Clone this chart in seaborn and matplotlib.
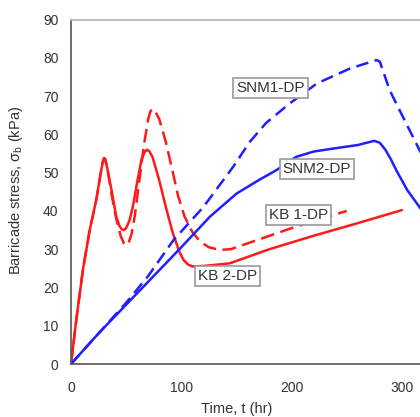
import numpy as np
import pandas as pd
import seaborn as sns
import matplotlib.pyplot as plt
import matplotlib.ticker as ticker

# KB 1-DP (dashed red)
kb1_t = [0, 5, 11, 17, 23, 27, 29, 30, 31, 33, 37, 41, 45, 48, 50, 52, 55, 58, 62, 66, 70, 72, 74, 76, 80,
         86, 92, 97, 103, 110, 117, 125, 135, 145, 160, 200, 250]
kb1_s = [0, 12, 25, 35, 43, 50, 53, 53.8, 53.5, 51, 44, 38, 33.5, 31.5, 31, 31.5, 34, 39, 48, 57, 64, 66, 66.7, 66.2, 64,
         58, 50.5, 44, 38.5, 34.5, 32, 30.5, 29.8, 30, 31.5, 35.5, 40]

# KB 2-DP (solid red)
kb2_t = [0, 5, 11, 17, 23, 27, 29, 30, 31, 33, 37, 41, 44, 46, 48, 50, 53, 56, 60, 64, 67, 69, 71, 74, 80,
         86, 92, 98, 102, 106, 110, 120, 144, 180, 220, 260, 300]
kb2_s = [0, 12, 25, 35, 43, 50, 53, 53.8, 53.5, 51, 45, 38.5, 36, 35.2, 35, 35.5, 37.5, 41, 47.5, 53.5, 55.5, 56, 55.6, 54, 48,
         41, 34.5, 29.5, 27.2, 26, 25.5, 25.6, 26.3, 30, 33.5, 36.8, 40.2]

# SNM1-DP (dashed blue)
snm1_t = [0, 25, 50, 70, 93, 120, 147, 162, 177, 198, 223, 253, 277, 280, 289, 304, 316, 330]
snm1_s = [0, 8, 16, 23, 32.4, 41, 51.5, 58, 63, 68, 73.3, 77.2, 79.4, 79, 71.5, 62.8, 55.9, 48]

# SNM2-DP (solid blue)
snm2_t = [0, 25, 50, 75, 100, 126, 150, 170, 186, 204, 220, 238, 260, 268, 275, 280, 285, 290, 295, 305, 316, 330]
snm2_s = [0, 8, 15.5, 23, 30.5, 38.5, 44.5, 48, 50.6, 54.1, 55.5, 56.3, 57.2, 57.8, 58.3, 57.8, 56, 53.5, 50.6, 45.4, 41, 35]

# label positions (data coords)
labels = ['SNM1-DP', 'SNM2-DP', 'KB 1-DP', 'KB 2-DP']
label_t = [181, 223, 206, 142]
label_s = [72.2, 50.9, 39, 23.1]

sns.set_style('white')
plt.rcParams['font.family'] = ['Liberation Sans', 'DejaVu Sans']
plt.rcParams['mathtext.fontset'] = 'custom'
plt.rcParams['mathtext.rm'] = 'Liberation Sans'

fig = plt.figure(figsize=(4.2, 4.17), dpi=100)
ax = fig.add_axes([71 / 420, 53 / 417, 386 / 420, 344.5 / 417])

red = '#ff1a1a'
blue = '#1f1fff'
sns.lineplot(x=kb1_t, y=kb1_s, sort=False, estimator=None, color=red, lw=1.8, ax=ax,
             linestyle=(0, (5.5, 2.6)))
sns.lineplot(x=kb2_t, y=kb2_s, sort=False, estimator=None, color=red, lw=1.8, ax=ax)
sns.lineplot(x=snm1_t, y=snm1_s, sort=False, estimator=None, color=blue, lw=1.8, ax=ax,
             linestyle=(0, (5, 2.6)))
sns.lineplot(x=snm2_t, y=snm2_s, sort=False, estimator=None, color=blue, lw=1.8, ax=ax)

for txt, t, s in zip(labels, label_t, label_s):
    ax.text(t, s, txt, ha='center', va='center', fontsize=11, color='#333333', zorder=5,
            bbox=dict(boxstyle='square,pad=0.2', fc='white', ec='#9a9a9a', lw=1.2))

ax.set_xlim(0, 350)
ax.set_ylim(0, 90)
ax.xaxis.set_major_locator(ticker.MultipleLocator(100))
ax.xaxis.set_minor_locator(ticker.MultipleLocator(20))
ax.yaxis.set_major_locator(ticker.MultipleLocator(10))
ax.yaxis.set_minor_locator(ticker.MultipleLocator(2))
ax.tick_params(which='major', direction='inout', length=8, width=1, color='#555555',
               labelsize=10, labelcolor='#333333', pad=5)
ax.tick_params(which='minor', direction='in', length=4, width=0.8, color='#666666')
ax.tick_params(axis='x', which='major', pad=8)

for side in ['left', 'bottom']:
    ax.spines[side].set_color('#555555')
    ax.spines[side].set_linewidth(1.2)
ax.spines['top'].set_color('#b0b0b0')
ax.spines['top'].set_linewidth(1.2)
ax.spines['right'].set_visible(False)

ax.set_xlabel('Time, t (hr)', fontsize=10.5, color='#333333')
ax.xaxis.set_label_coords(150 / 350, -0.11)
ax.set_ylabel(r'Barricade stress, $\mathregular{\sigma_b}$ (kPa)', fontsize=10.5, color='#333333')
ax.yaxis.set_label_coords(-0.118, 0.505)

fig.savefig('out.png', dpi=100)
